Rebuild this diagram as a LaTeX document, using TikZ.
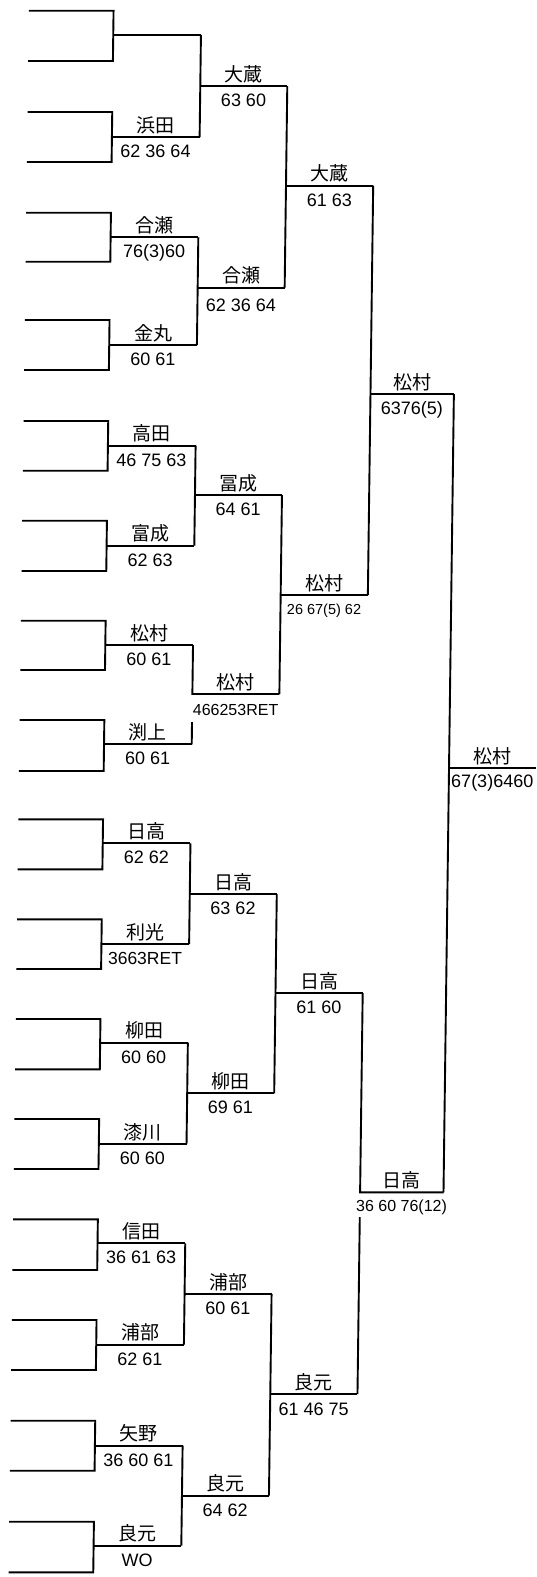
\documentclass[tikz,border=0pt]{standalone}
\usepackage{fontspec}
\setmainfont{Liberation Sans}
\newfontfamily\cjk{Noto Sans CJK JP}
\begin{document}
\begin{tikzpicture}[x={(1pt,0pt)}, y={(-0.013pt,-1pt)},
  br/.style={line width=1.9pt},
  nm/.style={anchor=base, inner sep=0pt, font=\cjk\fontsize{19}{19}\selectfont},
  scl/.style={anchor=base, inner sep=0pt, font=\fontsize{18}{18}\selectfont}]
\fill[white] (0pt,0pt) rectangle (536pt,-1577pt);
\useasboundingbox (0pt,0pt) rectangle (536pt,-1577pt);
\def\XA{29}\def\XB{113.7}\def\XC{201.4}\def\XD{288.4}\def\XE{375.6}\def\XF{459}\def\XG{546}
% round 1
\foreach \i/\et/\eb/\w/\nm/\scr in {
  1/10.7/61/35/{}/{},
  2/112/162/137/浜田/62 36 64,
  3/212.7/261.7/237.3/合瀬/76(3)60,
  4/320/370/345/金丸/60 61,
  5/421/470.7/445.7/高田/46 75 63,
  6/520.7/571/545.7/富成/62 63,
  7/620.7/670/645/松村/60 61,
  8/720/771/744.3/渕上/60 61,
  9/819.3/869.3/843.3/日高/62 62,
  10/919.3/969/944/利光/{\fontsize{17.5}{17.5}\selectfont 3663RET},
  11/1019/1069.3/1042.7/柳田/60 60,
  12/1119/1169/1144/漆川/60 60,
  13/1219.3/1270/1243.3/信田/36 61 63,
  14/1320/1370/1344.7/浦部/62 61,
  15/1420.7/1470.7/1445.7/矢野/36 60 61,
  16/1521.7/1572.3/1545.7/良元/WO}{
  \coordinate (a\i) at (\XA,\et);
  \coordinate (b\i) at (\XA,\eb);
  \draw[br] (a\i) -- (\XB,\et) -- (\XB,\eb) -- (b\i);
  \coordinate (w\i) at (\XB,\w);
  \coordinate (m\i) at (\XC,\w);
  \draw[br] (w\i) -- (m\i);
  \node[nm] (n\i) at (\XB/2+\XC/2,\w-5) {\nm};
  \node[scl] (s\i) at (\XB/2+\XC/2,\w+20.5) {\scr};
}
% round 2
\foreach \k/\ia/\ib/\yy/\nm/\scr/\dy in {
  1/1/2/86/大蔵/63 60/20.5,
  2/3/4/287.7/合瀬/62 36 64/24,
  3/5/6/495/冨成/64 61/20.5,
  5/9/10/894/日高/63 62/20.5,
  6/11/12/1093.3/柳田/69 61/20,
  7/13/14/1294/浦部/60 61/20.5,
  8/15/16/1495.7/良元/64 62/21}{
  \draw[br] (m\ia) -- (m\ib);
  \coordinate (pa\k) at (\XC,\yy);
  \coordinate (r\k) at (\XD,\yy);
  \draw[br] (pa\k) -- (r\k);
  \node[nm] (nb\k) at (\XC/2+\XD/2,\yy-5) {\nm};
  \node[scl] (sb\k) at (\XC/2+\XD/2,\yy+\dy) {\scr};
}
% round 2, match 4 (vertical broken under its score)
\coordinate (pa4) at (\XC,694);
\coordinate (r4) at (\XD,694);
\coordinate (gap4) at (\XC,722);
\draw[br] (m7) -- (pa4) -- (r4);
\draw[br] (gap4) -- (m8);
\node[nm] (nb4) at (\XC/2+\XD/2,694-5) {松村};
\node[scl,font=\fontsize{16}{16}\selectfont] (sb4) at (\XC/2+\XD/2,694+21) {466253RET};
% round 3
\foreach \k/\ia/\ib/\yy/\nm/\scr/\dy in {
  1/1/2/185.7/大蔵/61 63/21,
  2/3/4/595/松村/{\fontsize{14.5}{14.5}\selectfont 26 67(5) 62}/19,
  3/5/6/993/日高/61 60/20.5,
  4/7/8/1394/良元/61 46 75/21}{
  \draw[br] (r\ia) -- (r\ib);
  \coordinate (pc\k) at (\XD,\yy);
  \coordinate (t\k) at (\XE,\yy);
  \draw[br] (pc\k) -- (t\k);
  \node[nm] (nc\k) at (\XD/2+\XE/2,\yy-5) {\nm};
  \node[scl] (sc\k) at (\XD/2+\XE/2,\yy+\dy) {\scr};
}
% round 4
\coordinate (pd1) at (\XE,394);
\coordinate (f1) at (\XF,394);
\draw[br] (t1) -- (t2);
\draw[br] (pd1) -- (f1);
\node[nm] (nd1) at (\XE/2+\XF/2,394-5) {松村};
\node[scl] (sd1) at (\XE/2+\XF/2,394+20) {6376(5)};
\coordinate (pd2) at (\XE,1192.3);
\coordinate (f2) at (\XF,1192.3);
\coordinate (gapd) at (\XE,1217);
\draw[br] (t3) -- (pd2) -- (f2);
\draw[br] (gapd) -- (t4);
\node[nm] (nd2) at (\XE/2+\XF/2,1192.3-5) {日高};
\node[scl,font=\fontsize{16}{16}\selectfont] (sd2) at (\XE/2+\XF/2,1192.3+19.5) {36 60 76(12)};
% final
\coordinate (pe) at (\XF,768.3);
\coordinate (fin) at (\XG,768.3);
\draw[br] (f1) -- (f2);
\draw[br] (pe) -- (fin);
\node[nm] (ne) at (\XF/2+536/2+5,768.3-5) {松村};
\node[scl] (se) at (\XF/2+536/2+5,768.3+19) {67(3)6460};
\end{tikzpicture}
\end{document}
